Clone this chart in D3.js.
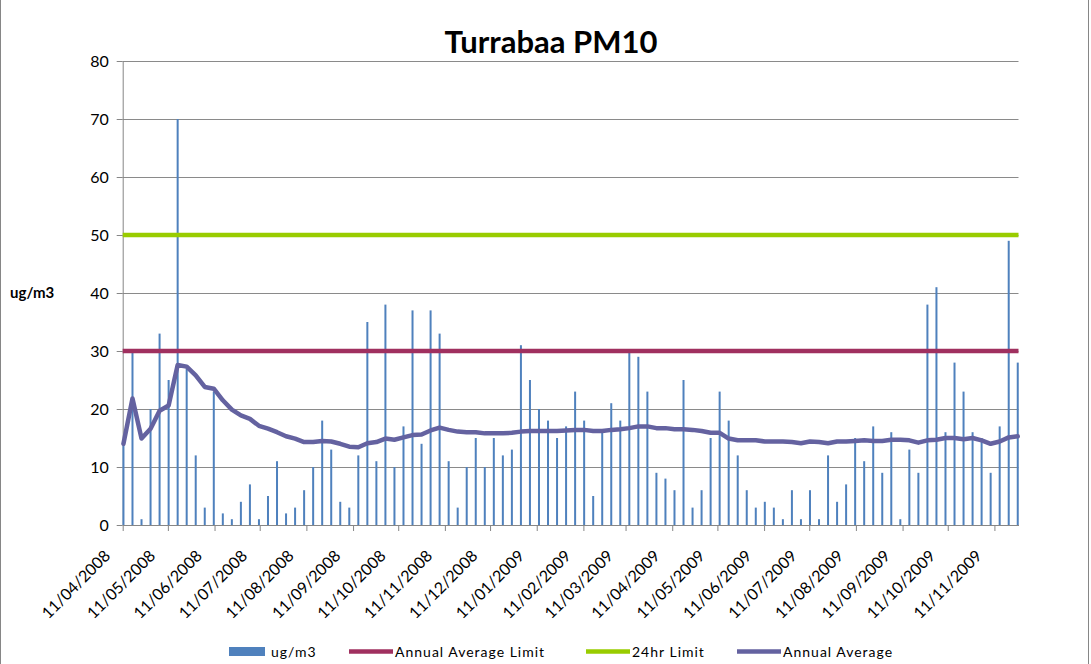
<!DOCTYPE html>
<html>
<head>
<meta charset="utf-8">
<script src="https://cdn.jsdelivr.net/npm/d3@7"></script>
<style>
  html, body { margin: 0; padding: 0; background: #fff; }
  svg { display: block; }
  text { font-family: Lato, "Open Sans", "DejaVu Sans", sans-serif; fill: #000; }
</style>
</head>
<body>
<svg id="chart" width="1091" height="664"></svg>
<script>
// ---------------- DATA ----------------
const sampleDates = [
  "2008-04-11","2008-04-17","2008-04-23","2008-04-29","2008-05-05","2008-05-11","2008-05-17","2008-05-23","2008-05-29","2008-06-04",
  "2008-06-10","2008-06-16","2008-06-22","2008-06-28","2008-07-04","2008-07-10","2008-07-16","2008-07-22","2008-07-28","2008-08-03",
  "2008-08-09","2008-08-15","2008-08-21","2008-08-27","2008-09-02","2008-09-08","2008-09-14","2008-09-20","2008-09-26","2008-10-02",
  "2008-10-08","2008-10-14","2008-10-20","2008-10-26","2008-11-01","2008-11-07","2008-11-13","2008-11-19","2008-11-25","2008-12-01",
  "2008-12-07","2008-12-13","2008-12-19","2008-12-25","2008-12-31","2009-01-06","2009-01-12","2009-01-18","2009-01-24","2009-01-30",
  "2009-02-05","2009-02-11","2009-02-17","2009-02-23","2009-03-01","2009-03-07","2009-03-13","2009-03-19","2009-03-25","2009-03-31",
  "2009-04-06","2009-04-12","2009-04-18","2009-04-24","2009-04-30","2009-05-06","2009-05-12","2009-05-18","2009-05-24","2009-05-30",
  "2009-06-05","2009-06-11","2009-06-17","2009-06-23","2009-06-29","2009-07-05","2009-07-11","2009-07-17","2009-07-23","2009-07-29",
  "2009-08-04","2009-08-10","2009-08-16","2009-08-22","2009-08-28","2009-09-03","2009-09-09","2009-09-15","2009-09-21","2009-09-27",
  "2009-10-03","2009-10-09","2009-10-15","2009-10-21","2009-10-27","2009-11-02","2009-11-08","2009-11-14","2009-11-20","2009-11-26"
];

const pm10 = [
  14,30,1,20,33,25,70,27,12,3,
  23,2,1,4,7,1,5,11,2,3,
  6,10,18,13,4,3,12,35,11,38,
  10,17,37,14,37,33,11,3,10,15,
  10,15,12,13,31,25,20,18,15,17,
  23,18,5,16,21,18,30,29,23,9,
  8,6,25,3,6,15,23,18,12,6,
  3,4,3,1,6,1,6,1,12,4,
  7,15,11,17,9,16,1,13,9,38,
  41,16,28,23,16,15,9,17,49,28
];

const annualAverage = [
  14.0,21.8,14.9,16.6,19.7,20.6,27.6,27.3,25.8,23.8,
  23.5,21.5,19.9,18.9,18.3,17.1,16.6,16.0,15.3,14.9,
  14.3,14.3,14.5,14.4,14.0,13.5,13.4,14.1,14.3,14.9,
  14.7,15.1,15.5,15.6,16.3,16.8,16.4,16.1,16.0,16.0,
  15.8,15.8,15.8,15.9,16.1,16.2,16.2,16.2,16.2,16.3,
  16.4,16.4,16.2,16.2,16.4,16.5,16.7,17.0,17.0,16.7,
  16.7,16.5,16.5,16.4,16.2,15.9,15.9,14.9,14.6,14.6,
  14.6,14.4,14.4,14.4,14.3,14.1,14.4,14.3,14.1,14.4,
  14.4,14.5,14.6,14.5,14.5,14.7,14.7,14.6,14.2,14.6,
  14.7,15.0,15.0,14.8,15.0,14.6,14.0,14.4,15.1,15.3
];

const annualAverageLimit = 30;
const dayLimit24hr = 50;

const xTickLabels = [
  "11/04/2008","11/05/2008","11/06/2008","11/07/2008","11/08/2008","11/09/2008","11/10/2008",
  "11/11/2008","11/12/2008","11/01/2009","11/02/2009","11/03/2009","11/04/2009","11/05/2009",
  "11/06/2009","11/07/2009","11/08/2009","11/09/2009","11/10/2009","11/11/2009"
];
const yTicks = [0,10,20,30,40,50,60,70,80];
const axisStart = "2008-04-11";
const axisEnd = "2009-11-27";

const legendItems = [
  { label: "ug/m3", type: "rect", color: "#4F81BD" },
  { label: "Annual Average Limit", type: "line", color: "#A0305F" },
  { label: "24hr Limit", type: "line", color: "#99CC00" },
  { label: "Annual Average", type: "line", color: "#6462A0" }
];

// ---------------- CHART ----------------
const svg = d3.select("#chart");
const parseISO = d3.utcParse("%Y-%m-%d");
const parseDMY = d3.utcParse("%d/%m/%Y");

const plotLeft = 122.7, plotRight = 1018.5, plotTop = 61, plotBottom = 525;
const x = d3.scaleUtc().domain([parseISO(axisStart), parseISO(axisEnd)]).range([plotLeft, plotRight]);
const y = d3.scaleLinear().domain([0, 80]).range([plotBottom, plotTop]);
const halfDay = (x(parseISO("2008-04-12")) - x(parseISO("2008-04-11"))) / 2;

const rows = sampleDates.map((d, i) => ({ date: parseISO(d), v: pm10[i], avg: annualAverage[i] }));

// chart border (left / right edges visible)
svg.append("line").attr("x1", 0.5).attr("x2", 0.5).attr("y1", 0).attr("y2", 664).attr("stroke", "#868686");
svg.append("line").attr("x1", 1088.5).attr("x2", 1088.5).attr("y1", 0).attr("y2", 664).attr("stroke", "#868686");

// gridlines
svg.append("g").selectAll("line").data(yTicks.filter(t => t > 0)).join("line")
  .attr("x1", plotLeft).attr("x2", plotRight)
  .attr("y1", d => Math.round(y(d)) + 0.5).attr("y2", d => Math.round(y(d)) + 0.5)
  .attr("stroke", "#8a8a8a").attr("stroke-width", 1);

// y axis
const yAxis = d3.axisLeft(y).tickValues(yTicks).tickSize(6).tickPadding(8).tickSizeOuter(0);
const gy = svg.append("g").attr("transform", `translate(${plotLeft},0)`).call(yAxis);
gy.select(".domain").attr("stroke", "#868686");
gy.selectAll(".tick line").attr("stroke", "#868686");
gy.selectAll(".tick text").style("font-size", "16px").style("font-family", "Lato, sans-serif").attr("fill", "#000");

// x axis
const xTickDates = xTickLabels.map(parseDMY);
const xAxis = d3.axisBottom(x).tickValues(xTickDates).tickSize(6).tickSizeOuter(0)
  .tickFormat((d, i) => xTickLabels[i]);
const gx = svg.append("g").attr("transform", `translate(0,${plotBottom})`).call(xAxis);
gx.select(".domain").attr("stroke", "#868686");
gx.selectAll(".tick line").attr("stroke", "#868686");
gx.selectAll(".tick text")
  .style("font-size", "16px").style("font-family", "Lato, sans-serif").attr("fill", "#000")
  .attr("text-anchor", "end")
  .attr("y", 0).attr("dy", 0)
  .attr("transform", "translate(-12,32) rotate(-45)");

// bars
svg.append("g").selectAll("rect").data(rows).join("rect")
  .attr("x", d => x(d.date) + halfDay - 1)
  .attr("width", 2)
  .attr("y", d => y(d.v))
  .attr("height", d => y(0) - y(d.v))
  .attr("fill", "#4F81BD");

// limit lines
svg.append("line").attr("x1", plotLeft).attr("x2", plotRight)
  .attr("y1", y(annualAverageLimit)).attr("y2", y(annualAverageLimit))
  .attr("stroke", "#A0305F").attr("stroke-width", 4.5);
svg.append("line").attr("x1", plotLeft).attr("x2", plotRight)
  .attr("y1", y(dayLimit24hr)).attr("y2", y(dayLimit24hr))
  .attr("stroke", "#99CC00").attr("stroke-width", 4.5);

// annual average line
const line = d3.line().x(d => x(d.date) + halfDay).y(d => y(d.avg));
svg.append("path").datum(rows).attr("d", line)
  .attr("fill", "none").attr("stroke", "#6462A0").attr("stroke-width", 4.5)
  .attr("stroke-linejoin", "round").attr("stroke-linecap", "round");

// title
svg.append("text").attr("x", 551).attr("y", 53).attr("text-anchor", "middle")
  .style("font-size", "31px").style("font-weight", "bold").text("Turrabaa PM10");

// y label
svg.append("text").attr("x", 10).attr("y", 298)
  .style("font-size", "15px").style("font-weight", "bold").text("ug/m3");

// legend
const legendX = [229, 349, 586, 737];
const lg = svg.append("g");
legendItems.forEach((it, i) => {
  const lx = legendX[i];
  if (it.type === "rect") {
    lg.append("rect").attr("x", lx).attr("y", 647).attr("width", 36).attr("height", 9).attr("fill", it.color);
    lg.append("text").attr("x", lx + 42).attr("y", 657).style("font-size", "14px").style("letter-spacing", "1px").text(it.label);
  } else {
    lg.append("line").attr("x1", lx).attr("x2", lx + 44).attr("y1", 651.5).attr("y2", 651.5)
      .attr("stroke", it.color).attr("stroke-width", 4.5);
    lg.append("text").attr("x", lx + 46).attr("y", 657).style("font-size", "14px").style("letter-spacing", "1px").text(it.label);
  }
});
</script>
</body>
</html>
